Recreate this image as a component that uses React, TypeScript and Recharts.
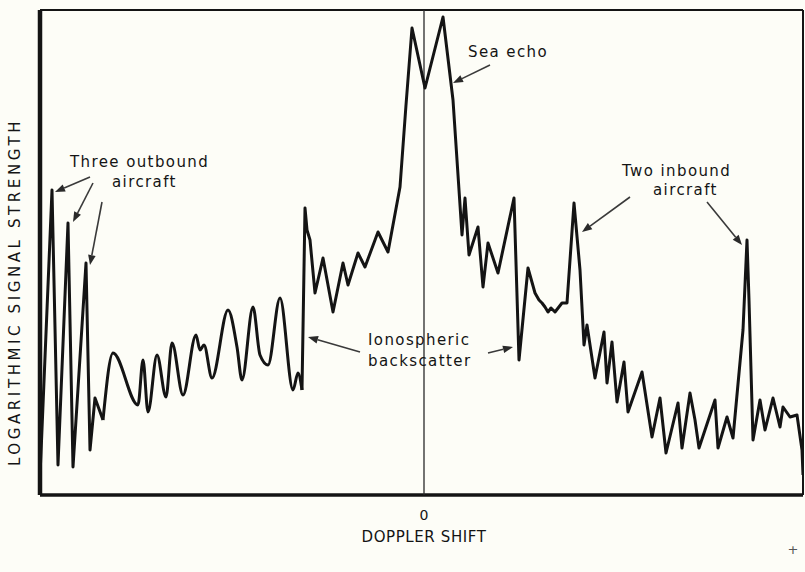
import React from 'react';
import { LineChart, Line, XAxis, YAxis, ReferenceLine, ReferenceDot } from 'recharts';

// doppler offset (0 = zero shift) and relative log signal level
const outboundAircraft = [
  [-384, 20], [-383, 42], [-372, 305], [-366, 30], [-356, 272], [-351, 28],
  [-338, 232], [-334, 45], [-329, 97], [-321, 75],
];
// the rounded-looking stretch of the trace
const negativeBackscatter = [
  [-311, 142], [-286, 90], [-281, 135], [-276, 83], [-267, 140], [-258, 98],
  [-252, 152], [-241, 100], [-228, 160], [-224, 145], [-220, 150], [-212, 117],
  [-196, 185], [-187, 148], [-182, 115], [-171, 188], [-164, 140], [-156, 130],
  [-144, 197], [-131, 105], [-126, 122], [-122, 105],
];
const nearSeaEcho = [
  [-119, 287], [-117, 265], [-114, 255], [-109, 202], [-101, 237], [-91, 183],
  [-81, 232], [-76, 210], [-66, 242], [-59, 228], [-46, 263], [-36, 243],
  [-24, 308], [-18, 390], [-12, 467], [1, 407], [19, 478], [29, 395],
  [38, 260], [41, 297], [45, 240], [54, 268], [59, 208], [64, 252],
  [74, 222], [90, 297],
];
const positiveBackscatter = [
  [95, 135], [104, 227], [111, 202], [115, 195], [118, 192], [121, 188],
  [124, 183], [127, 187], [131, 183], [138, 192], [143, 192], [150, 292],
  [156, 225], [160, 150], [163, 170], [171, 117], [180, 163], [183, 112],
  [188, 153], [193, 93], [200, 133], [204, 83], [218, 123], [228, 58],
  [236, 97], [242, 42], [254, 92], [258, 47], [266, 102], [271, 75],
  [275, 47], [291, 95], [294, 47], [303, 78], [309, 57],
];
const inboundTail = [
  [319, 165], [323, 255], [325, 195], [329, 55], [336, 95], [341, 65],
  [349, 97], [356, 68], [359, 88], [366, 78], [373, 80], [378, 45], [379, 20],
];

const outboundRows = outboundAircraft.map(([shift, level], i) => ({
  shift,
  sharp: level,
  smooth: i === outboundAircraft.length - 1 ? level : null,
}));
const humpRows = negativeBackscatter.map(([shift, level], i) => ({
  shift,
  sharp: i === negativeBackscatter.length - 1 ? level : null,
  smooth: level,
}));
const restRows = [...nearSeaEcho, ...positiveBackscatter, ...inboundTail].map(
  ([shift, level]) => ({ shift, sharp: level, smooth: null }),
);
const trace = [...outboundRows, ...humpRows, ...restRows];

// annotation arrows: from label to the feature
const arrows = [
  [-334, 318, -369, 303],
  [-331, 312, -351, 273],
  [-322, 293, -334, 230],
  [66, 430, 29, 412],
  [-64, 143, -116, 158],
  [64, 142, 89, 148],
  [206, 298, 158, 263],
  [283, 293, 318, 250],
];

const notes = [
  { text: 'Three outbound', shift: -354, level: 328 },
  { text: 'aircraft', shift: -312, level: 308 },
  { text: 'Sea echo', shift: 44, level: 438 },
  { text: 'Ionospheric', shift: -56, level: 150 },
  { text: 'backscatter', shift: -56, level: 129 },
  { text: 'Two inbound', shift: 198, level: 319 },
  { text: 'aircraft', shift: 229, level: 300 },
];

const xTicks = [0, 376];

const FONT = '"DejaVu Sans", sans-serif';
const INK = '#141414';

const Arrow = (props: any) => {
  const { x1, y1, x2, y2 } = props;
  const ang = Math.atan2(y2 - y1, x2 - x1);
  const len = 10;
  const half = 3.8;
  const bx = x2 - len * Math.cos(ang);
  const by = y2 - len * Math.sin(ang);
  const px = -Math.sin(ang) * half;
  const py = Math.cos(ang) * half;
  return (
    <g>
      <line x1={x1} y1={y1} x2={bx} y2={by} stroke="#3a3a3a" strokeWidth={1.6} />
      <polygon
        points={`${x2},${y2} ${bx + px},${by + py} ${bx - px},${by - py}`}
        fill="#2a2a2a"
      />
    </g>
  );
};

const XTick = (props: any) => {
  const { x, y, payload } = props;
  if (payload.value === 0) {
    return (
      <g fontFamily={FONT} fill={INK}>
        <text x={x} y={y + 25} textAnchor="middle" fontSize={14}>0</text>
        <text x={x} y={y + 47} textAnchor="middle" fontSize={15} letterSpacing={0.6}>
          DOPPLER SHIFT
        </text>
      </g>
    );
  }
  return (
    <text x={x} y={y + 59} textAnchor="middle" fontSize={13} fontFamily={FONT} fill="#555">
      +
    </text>
  );
};

const YTitle = () => (
  <text
    x={20}
    y={292}
    transform="rotate(-90 20 292)"
    textAnchor="middle"
    fontFamily={FONT}
    fontSize={15}
    letterSpacing={3.6}
    fill={INK}
  >
    LOGARITHMIC  SIGNAL  STRENGTH
  </text>
);

export default function App() {
  return (
    <div style={{ width: 805, height: 572, background: '#fdfdf7' }}>
      <style>{'body{margin:0}'}</style>
      <LineChart
        width={805}
        height={572}
        data={trace}
        margin={{ top: 10, right: 2, left: 0, bottom: 47 }}
      >
        <XAxis
          dataKey="shift"
          type="number"
          domain={[-384, 379]}
          ticks={xTicks}
          allowDataOverflow
          height={30}
          tickLine={false}
          tickSize={0}
          tickMargin={0}
          axisLine={false}
          tick={<XTick />}
        />
        <YAxis
          type="number"
          domain={[0, 485]}
          width={40}
          tick={false}
          tickLine={false}
          axisLine={false}
          allowDataOverflow
          label={{ content: <YTitle /> }}
        />
        {/* frame */}
        <ReferenceLine x={-384} stroke={INK} strokeWidth={4.5} />
        <ReferenceLine x={379} stroke={INK} strokeWidth={2} />
        <ReferenceLine y={485} stroke={INK} strokeWidth={2} />
        <ReferenceLine y={0} stroke={INK} strokeWidth={3.5} />
        <ReferenceLine x={0} stroke="#2a2a2a" strokeWidth={1.3} />
        <Line
          type="linear"
          dataKey="sharp"
          stroke={INK}
          strokeWidth={3}
          strokeLinejoin="round"
          dot={false}
          connectNulls={false}
          isAnimationActive={false}
        />
        <Line
          type="monotone"
          dataKey="smooth"
          stroke={INK}
          strokeWidth={3}
          strokeLinejoin="round"
          dot={false}
          connectNulls={false}
          isAnimationActive={false}
        />
        {arrows.map(([sx, sy, ex, ey], i) => (
          <ReferenceLine
            key={`a${i}`}
            segment={[{ x: sx, y: sy }, { x: ex, y: ey }]}
            shape={<Arrow />}
          />
        ))}
        {notes.map((n, i) => (
          <ReferenceDot
            key={`n${i}`}
            x={n.shift}
            y={n.level}
            r={0}
            shape={(p: any) => (
              <text
                x={p.cx}
                y={p.cy}
                fontFamily={FONT}
                fontSize={15}
                letterSpacing={1.4}
                fill={INK}
              >
                {n.text}
              </text>
            )}
          />
        ))}
      </LineChart>
    </div>
  );
}
